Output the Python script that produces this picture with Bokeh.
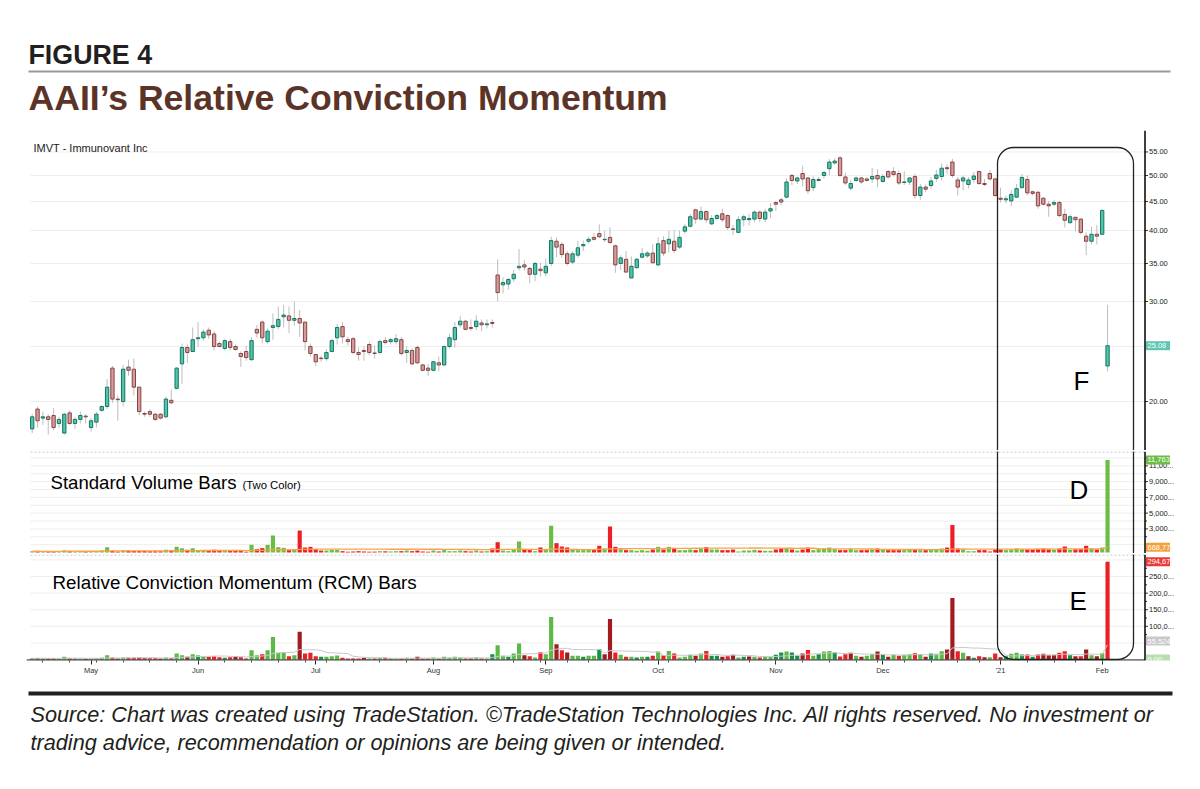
import numpy as np
import pandas as pd
from bokeh.plotting import figure
from bokeh.layouts import column
from bokeh.models import Range1d, FixedTicker, Label, Span, ColumnDataSource
from bokeh.core.properties import value
from bokeh.embed import file_html
from bokeh.resources import INLINE

FONT = "Liberation Sans"
W = 1200

# ---------------- data (IMVT daily, 2020-04-16 .. 2021-02-02) ----------------
price_open = [
    17.9, 19.4, 18.7, 18.8, 18.9, 18.3, 17.6, 19.1, 18.3, 18.6,
    18.85, 18.0, 18.4, 19.3, 19.6, 22.9, 20.2, 20.0, 23.0, 22.8,
    21.2, 19.05, 19.2, 19.0, 19.0, 18.8, 20.1, 21.1, 23.3, 24.9,
    24.5, 25.8, 25.9, 26.7, 26.3, 25.3, 24.8, 25.5, 25.0, 24.3,
    24.5, 23.7, 26.8, 27.6, 25.5, 27.0, 27.1, 28.2, 28.3, 27.8,
    28.0, 27.6, 25.0, 24.2, 23.85, 23.8, 24.5, 25.9, 27.1, 25.7,
    25.8, 24.4, 24.6, 25.2, 24.35, 24.4, 25.6, 25.5, 25.5, 25.7,
    24.4, 24.6, 24.9, 23.2, 22.9, 22.7, 23.4, 23.2, 25.0, 25.7,
    27.3, 27.7, 27.0, 27.1, 27.5, 27.3, 27.55, 33.4, 32.1, 32.2,
    32.9, 34.4, 34.8, 34.3, 33.5, 34.2, 33.7, 35.0, 38.3, 37.8,
    36.4, 35.2, 36.2, 37.6, 38.3, 38.9, 39.5, 38.55, 38.9, 37.6,
    35.0, 35.6, 33.0, 34.4, 35.9, 36.1, 36.5, 34.8, 38.4, 37.9,
    38.3, 37.4, 39.9, 40.7, 43.5, 41.9, 43.2, 41.1, 42.0, 42.8,
    42.5, 40.25, 39.7, 41.8, 41.8, 41.9, 43.1, 41.9, 43.3, 44.8,
    45.3, 45.8, 50.0, 48.9, 50.4, 49.5, 47.6, 49.0, 50.0, 51.4,
    52.6, 53.7, 49.7, 47.5, 49.0, 49.5, 49.3, 49.3, 50.0, 48.8,
    50.8, 50.8, 50.4, 48.6, 48.7, 49.8, 46.1, 47.7, 48.0, 49.4,
    49.8, 51.6, 52.8, 49.1, 48.9, 48.2, 49.2, 50.8, 48.4, 50.4,
    49.3, 45.6, 45.3, 45.1, 45.8, 47.6, 49.2, 46.8, 46.7, 45.6,
    44.5, 44.5, 44.8, 42.7, 41.3, 42.2, 41.9, 39.1, 38.3, 39.4,
    39.4, 23.1,
]
price_high = [
    19.0, 19.6, 19.2, 19.0, 19.5, 18.8, 19.1, 19.3, 18.8, 19.2,
    19.0, 18.7, 19.2, 19.7, 21.9, 23.1, 20.5, 23.2, 23.7, 23.8,
    21.2, 19.2, 19.4, 19.1, 19.1, 20.4, 21.0, 23.0, 25.3, 25.2,
    27.0, 27.6, 26.8, 27.0, 26.6, 25.5, 25.8, 25.8, 25.2, 24.5,
    25.1, 26.0, 27.3, 27.8, 26.9, 28.6, 29.4, 29.6, 29.4, 30.0,
    29.0, 27.6, 25.3, 24.2, 24.1, 24.7, 25.8, 27.4, 27.6, 26.0,
    26.0, 24.9, 25.0, 25.5, 25.1, 25.7, 26.0, 25.9, 26.3, 26.0,
    25.0, 24.8, 25.1, 23.3, 23.3, 23.6, 24.0, 25.1, 26.3, 27.6,
    28.3, 27.8, 27.9, 28.4, 27.9, 27.9, 27.9, 35.6, 33.1, 33.0,
    34.1, 37.1, 35.5, 34.5, 35.2, 35.1, 35.7, 39.0, 38.9, 38.2,
    36.8, 36.8, 38.4, 38.4, 39.0, 39.6, 41.0, 40.0, 40.5, 37.8,
    36.2, 36.8, 36.0, 35.8, 37.3, 36.8, 37.9, 38.9, 39.1, 40.0,
    40.1, 40.0, 41.1, 42.8, 43.7, 44.1, 43.4, 42.6, 42.8, 43.7,
    42.7, 40.9, 42.4, 42.7, 42.8, 43.4, 43.4, 43.7, 44.7, 45.1,
    45.7, 49.4, 50.3, 49.8, 52.0, 49.7, 49.8, 49.7, 51.0, 53.4,
    53.6, 54.1, 50.6, 49.1, 49.8, 49.7, 49.6, 51.6, 51.3, 50.3,
    51.1, 51.7, 51.0, 50.9, 49.6, 50.3, 48.3, 48.2, 49.7, 51.1,
    52.5, 52.3, 53.5, 49.7, 50.0, 49.7, 50.7, 51.0, 49.3, 51.1,
    49.6, 47.6, 46.1, 47.1, 48.3, 50.3, 50.0, 47.0, 47.0, 45.7,
    45.1, 45.3, 45.1, 43.7, 42.7, 42.3, 42.0, 39.7, 40.6, 40.9,
    43.6, 29.6,
]
price_low = [
    17.6, 18.0, 18.2, 17.5, 17.8, 18.0, 17.5, 18.2, 17.9, 18.3,
    18.3, 17.7, 18.0, 19.2, 19.4, 19.9, 18.5, 19.6, 22.2, 20.5,
    18.9, 18.8, 18.8, 18.5, 18.6, 18.7, 19.8, 21.0, 21.5, 23.4,
    24.5, 25.0, 25.6, 25.8, 24.6, 24.9, 24.6, 24.6, 24.6, 23.0,
    23.6, 23.6, 25.9, 25.3, 25.3, 25.7, 26.8, 27.0, 26.4, 27.2,
    26.0, 24.6, 24.0, 23.1, 23.5, 23.6, 24.4, 25.2, 25.3, 25.1,
    24.2, 23.6, 23.6, 24.1, 23.8, 24.2, 25.2, 25.2, 25.2, 24.1,
    23.4, 23.2, 23.3, 22.6, 22.2, 22.6, 22.6, 23.1, 24.8, 24.9,
    27.0, 26.7, 26.6, 26.7, 26.6, 26.9, 27.0, 30.0, 31.0, 31.5,
    32.5, 34.0, 34.0, 32.3, 32.6, 33.2, 33.2, 34.6, 35.9, 35.8,
    34.7, 34.9, 35.8, 36.8, 37.9, 38.4, 38.8, 38.2, 37.9, 33.7,
    34.1, 33.8, 33.0, 34.3, 35.7, 35.8, 35.0, 34.6, 36.1, 36.6,
    36.5, 37.1, 39.5, 40.5, 41.1, 41.7, 41.3, 40.9, 41.7, 41.4,
    40.1, 39.3, 39.6, 40.7, 40.8, 41.4, 41.4, 41.4, 42.1, 43.3,
    44.3, 45.6, 48.1, 48.3, 47.8, 46.4, 46.9, 48.8, 49.4, 50.0,
    52.3, 49.7, 48.1, 47.0, 48.7, 48.4, 48.8, 48.5, 47.7, 48.6,
    49.4, 49.8, 48.1, 48.1, 48.1, 45.5, 45.3, 46.7, 47.4, 48.7,
    49.0, 50.3, 49.5, 46.1, 47.1, 47.4, 48.5, 48.1, 47.9, 49.0,
    45.8, 44.8, 44.7, 44.1, 45.6, 47.4, 46.1, 46.1, 43.7, 44.3,
    42.3, 44.2, 42.2, 40.5, 41.1, 39.9, 39.4, 36.2, 37.8, 37.8,
    39.4, 22.6,
]
price_close = [
    18.8, 18.5, 18.8, 18.6, 18.0, 18.6, 19.0, 18.3, 18.6, 18.9,
    18.8, 18.5, 19.0, 19.6, 21.2, 20.2, 20.15, 22.8, 22.7, 21.2,
    19.2, 19.0, 19.0, 18.6, 18.7, 20.2, 19.9, 22.9, 24.9, 24.4,
    25.7, 25.9, 26.5, 26.2, 25.0, 25.0, 25.6, 24.9, 24.7, 24.0,
    23.9, 25.6, 26.4, 25.9, 26.6, 27.2, 27.9, 28.4, 27.8, 28.0,
    27.5, 25.5, 24.3, 23.5, 23.8, 24.4, 25.6, 27.0, 26.0, 25.5,
    24.4, 24.2, 24.5, 24.4, 24.3, 25.5, 25.4, 25.7, 25.8, 24.3,
    24.6, 23.3, 23.4, 22.7, 22.7, 23.5, 23.2, 25.0, 25.9, 27.0,
    27.7, 26.8, 26.9, 27.7, 27.3, 27.4, 27.45, 31.1, 32.4, 32.8,
    33.5, 34.6, 34.5, 33.5, 35.0, 34.0, 34.6, 38.4, 37.4, 36.3,
    35.0, 36.4, 37.3, 37.8, 38.6, 38.6, 39.0, 38.6, 38.1, 34.8,
    35.8, 33.8, 34.6, 35.6, 36.4, 36.5, 35.1, 37.9, 36.5, 38.6,
    36.9, 38.9, 40.6, 42.3, 41.9, 43.2, 41.8, 42.0, 42.5, 41.8,
    40.5, 40.2, 41.8, 42.3, 42.0, 43.1, 42.0, 43.1, 43.7, 44.5,
    44.9, 48.7, 49.0, 49.5, 49.3, 47.0, 49.2, 49.2, 50.6, 52.8,
    53.0, 50.0, 48.5, 48.4, 49.5, 48.7, 49.0, 49.8, 49.3, 49.8,
    49.7, 50.2, 48.5, 48.7, 49.5, 46.1, 47.7, 47.3, 48.9, 50.1,
    51.5, 51.4, 50.0, 47.7, 49.5, 49.1, 49.9, 48.4, 48.2, 49.3,
    46.1, 45.4, 45.5, 46.3, 47.4, 49.6, 46.6, 46.5, 44.2, 44.5,
    44.2, 44.8, 42.5, 41.7, 42.3, 41.8, 39.7, 38.3, 39.4, 39.1,
    43.4, 25.08,
]
# volume, thousands of shares
volume_k = [
    150, 180, 120, 150, 170, 130, 250, 170, 140, 150,
    120, 150, 200, 250, 680, 200, 130, 260, 210, 190,
    200, 180, 170, 170, 160, 340, 250, 720, 550, 340,
    550, 330, 320, 250, 340, 250, 200, 250, 250, 250,
    100, 970, 420, 550, 970, 2160, 680, 590, 340, 420,
    2790, 630, 720, 420, 250, 250, 340, 340, 170, 100,
    130, 170, 130, 100, 110, 170, 150, 130, 170, 170,
    250, 170, 250, 130, 100, 250, 130, 300, 170, 170,
    250, 170, 130, 250, 130, 170, 510, 1310, 250, 170,
    380, 1400, 380, 300, 170, 635, 380, 3400, 1190, 760,
    635, 420, 300, 300, 340, 340, 850, 510, 3300, 720,
    420, 300, 300, 220, 300, 220, 380, 720, 380, 720,
    590, 300, 300, 380, 300, 510, 680, 380, 380, 300,
    300, 380, 130, 250, 250, 340, 250, 220, 220, 380,
    510, 590, 380, 250, 380, 630, 300, 420, 510, 630,
    420, 300, 300, 460, 300, 300, 300, 380, 510, 420,
    300, 300, 300, 300, 340, 380, 300, 300, 420, 380,
    510, 630, 3500, 510, 380, 170, 170, 300, 300, 130,
    380, 380, 300, 380, 510, 420, 380, 380, 420, 510,
    380, 340, 510, 760, 340, 420, 420, 850, 510, 380,
    630, 11763,
]
# relative conviction momentum, thousands
rcm_k = [
    4, 4, 3, 3, 4, 3, 8, 4, 3, 3,
    2, 3, 4, 5, 13, 5, 3, 6, 5, 5,
    6, 4, 4, 4, 3, 6, 4, 18, 13, 8,
    16, 12, 8, 8, 10, 7, 5, 7, 9, 7,
    3, 28, 13, 16, 28, 68, 20, 20, 10, 13,
    84, 18, 20, 10, 8, 8, 10, 12, 5, 3,
    3, 3, 5, 3, 3, 5, 5, 3, 3, 3,
    5, 3, 8, 3, 3, 6, 3, 8, 5, 8,
    6, 3, 3, 6, 3, 3, 16, 43, 11, 8,
    18, 48, 13, 10, 6, 22, 16, 128, 46, 28,
    21, 11, 11, 8, 11, 11, 31, 16, 122, 21,
    14, 8, 8, 6, 8, 8, 11, 24, 12, 26,
    18, 6, 8, 14, 11, 18, 26, 11, 11, 8,
    10, 14, 6, 8, 9, 8, 6, 8, 8, 14,
    21, 24, 21, 11, 18, 29, 11, 16, 24, 26,
    21, 9, 16, 20, 11, 8, 11, 16, 24, 14,
    8, 14, 11, 14, 16, 19, 16, 8, 18, 17,
    25, 30, 185, 25, 20, 10, 5, 10, 7, 7,
    18, 7, 10, 17, 20, 15, 15, 8, 15, 17,
    13, 13, 20, 25, 13, 10, 10, 30, 13, 10,
    19, 294.675,
]
# RCM bar tone: G bright green, g dark green, R bright red, r dark red
rcm_tone = list(
    "GRgrRGGRgG" "rGGGGRrGRR" "RrRRrGRGGr" "GgGRRRgRrR" "RGGRGGGGRG"
    "rRRRgGGGRR" "rRrGRGRgGR" "GRrRRGRGGG" "GRrGRGgGGg" "GGrRGRGGrR"
    "rGGgGGgrrR" "GRGgGgRGRG" "RGGGrGRggr" "RrGgrGRGGg" "gGggrRGgGG"
    "gRRrGrGGrg" "rGRGGRGrgG" "GrrRGrgRrG" "RrgGGgRgRr" "rrRRgrRrGr"
    "GR"
)
holidays = ["2020-05-25", "2020-07-03", "2020-09-07", "2020-11-26",
            "2020-12-25", "2021-01-01", "2021-01-18"]
price_ticks = [20, 30, 35, 40, 45, 50, 55]
price_tick_labels = ["20.00", "30.00", "35.00", "40.00", "45.00", "50.00", "55.00"]
price_grid = [20, 25, 30, 35, 40, 45, 50, 55]
vol_ticks = [3000, 5000, 7000, 9000, 11000]
vol_tick_labels = ["3,000...", "5,000...", "7,000...", "9,000...", "11,00..."]
vol_minor = [2000, 4000, 6000, 8000, 10000, 12000]
vol_grid = list(range(1000, 12001, 1000))
rcm_ticks = [100, 150, 200, 250]
rcm_tick_labels = ["100,0...", "150,0...", "200,0...", "250,0..."]
rcm_minor = [75, 125, 175, 225, 275]
rcm_grid = [50, 100, 150, 200, 250, 300]
last_price_tag = "25.08"
last_vol_tag = "11,763,"
vol_avg_value, vol_avg_tag = 668.77, "668,770"
last_rcm_tag = "294,675"
rcm_avg_value, rcm_avg_tag = 55.524, "55,524"

# ---------------- checks ----------------
n = len(price_close)
lens = dict(o=len(price_open), h=len(price_high), l=len(price_low), c=n,
            v=len(volume_k), r=len(rcm_k), t=len(rcm_tone))
if any(v != n for v in lens.values()):
    raise ValueError(str(lens))
dates = pd.bdate_range("2020-04-16", "2021-02-02")
dates = dates[~dates.isin(pd.to_datetime(holidays))]
if len(dates) != n:
    raise ValueError("dates %d vs %d" % (len(dates), n))

idx = np.arange(n)
o = np.array(price_open); c = np.array(price_close)
up = c >= o
tone_col = {"G": "#5cb946", "g": "#17914a", "R": "#ec1f26", "r": "#a01c21"}
src = ColumnDataSource(dict(
    x=idx, o=o, h=price_high, l=price_low, c=c,
    top=np.maximum(o, c), bot=np.minimum(o, c),
    fill=["#55c2a9" if u else "#d99a9a" for u in up],
    edge=["#127863" if u else "#864444" for u in up],
    vol=volume_k, vcol=["#6cbd46" if u else "#ec1f26" for u in up],
    rcm=rcm_k, rcol=[tone_col[t] for t in rcm_tone],
))
vol_ma = pd.Series(volume_k, dtype=float).rolling(50, min_periods=1).mean()
rcm_ma = pd.Series(rcm_k, dtype=float).rolling(10, min_periods=1).mean()

month_ticks = [i for i in range(1, n) if dates[i].month != dates[i - 1].month]
month_labels = {i: ("'21" if dates[i].month == 1 else dates[i].strftime("%b")) for i in month_ticks}
week_ticks = [i for i in range(1, n) if dates[i].weekday() < dates[i - 1].weekday()]

# ---------------- geometry (x in candle-index units) ----------------
LEFT = 26                       # frame starts at this page x
PX = 5.35                       # pixels per trading day
X0 = -(31.7 - LEFT) / PX        # index at frame's left edge
x_rng = Range1d(X0, X0 + (W - LEFT) / PX)
AXIS_X = (1144.5 - 31.7) / PX   # right value axis
TICK = 3.0 / PX
LABEL_X = AXIS_X + 4.0 / PX
TAG_X = AXIS_X + 2.5 / PX
TAG_C = AXIS_X + 13.0 / PX
LINE_L = (30 - 31.7) / PX
BOX = dict(left=(997 - 31.7) / PX, right=(1133 - 31.7) / PX)


def base_fig(height, y_range, **kw):
    p = figure(width=W, height=height, x_range=x_rng, y_range=y_range,
               y_axis_location=None, toolbar_location=None, output_backend="svg",
               min_border_left=LEFT, min_border_right=0, outline_line_color=None, **kw)
    p.grid.visible = False
    return p


def value_axis(p, grid, ticks, labels, minor=()):
    p.segment(x0=[LINE_L] * len(grid), x1=[AXIS_X] * len(grid), y0=grid, y1=grid,
              line_color="#eeeeee", line_width=1)
    p.add_layout(Span(location=AXIS_X, dimension="height", line_color="black", line_width=1.5))
    p.segment(x0=[AXIS_X] * len(ticks), x1=[AXIS_X + TICK] * len(ticks), y0=ticks, y1=ticks,
              line_color="#333", line_width=1)
    if minor:
        p.segment(x0=[AXIS_X] * len(minor), x1=[AXIS_X + TICK * 0.67] * len(minor), y0=list(minor),
                  y1=list(minor), line_color="#333", line_width=1)
    p.text(x=[LABEL_X] * len(ticks), y=ticks, text=labels, text_font=value(FONT),
           text_font_size=value("7.5px"), text_color="#222", text_baseline="middle")


def tag(p, y, s, color, tcolor="white"):
    p.rect(x=[TAG_C], y=[y], width=24, height=9, width_units="screen", height_units="screen",
           fill_color=color, line_color=None)
    p.text(x=[TAG_X], y=[y], text=[s], text_font=value(FONT), text_font_size=value("7.5px"),
           text_color=tcolor, text_baseline="middle")


def label(p, x, y, s, size, color="black", **kw):
    p.add_layout(Label(x=x, y=y, text=s, text_font=FONT, text_font_size=size,
                       text_color=color, text_baseline="middle", **kw))


# ---------------- header ----------------
ph = figure(width=W, height=130, x_range=Range1d(LEFT, W), y_range=Range1d(130, 0),
            x_axis_location=None, y_axis_location=None, toolbar_location=None,
            output_backend="svg", min_border_left=LEFT, min_border_right=0,
            min_border_top=0, min_border_bottom=0, outline_line_color=None)
ph.grid.visible = False
label(ph, 28, 54.7, "FIGURE 4", "26.8px", "#231f20", text_font_style="bold")
ph.segment(x0=[28], y0=[71], x1=[1170], y1=[71], line_color="#9a9a9a", line_width=2)
label(ph, 28, 97.7, "AAII\u2019s Relative Conviction Momentum", "35.6px", "#5b3427",
      text_font_style="bold")

# ---------------- price ----------------
pp = base_fig(320, Range1d(16.4, 60.0), y_axis_type="log", x_axis_location=None,
              min_border_top=0, min_border_bottom=0)
value_axis(pp, price_grid, price_ticks, price_tick_labels)
pp.segment(x0="x", y0="l", x1="x", y1="h", source=src, line_color="#bdbdbd", line_width=1)
pp.vbar(x="x", width=0.62, top="top", bottom="bot", fill_color="fill", line_color="edge",
        line_width=1, source=src)
pp.quad(left=[BOX["left"]], right=[BOX["right"]], top=[56.0], bottom=[1.0], fill_color=None,
        line_color="#222", line_width=1.3, border_radius=16)
label(pp, (33 - 31.7) / PX, 56.0, "IMVT - Immunovant Inc", "11px", "#222")
label(pp, (1073 - 31.7) / PX, 21.78, "F", "26px")
tag(pp, price_close[-1], last_price_tag, "#5fc6b2")

# ---------------- volume ----------------
VOL_TOP = 12827
pv = base_fig(103, Range1d(-127, VOL_TOP), x_axis_location=None, min_border_top=1, min_border_bottom=0)
value_axis(pv, vol_grid, vol_ticks, vol_tick_labels, vol_minor)
pv.segment(x0=[LINE_L], x1=[AXIS_X], y0=[VOL_TOP - 64], y1=[VOL_TOP - 64], line_color="#b8b8b8",
           line_dash="2 2", line_width=1)
pv.vbar(x="x", width=0.78, top="vol", bottom=0, fill_color="vcol", line_color=None, source=src)
pv.line(idx, vol_ma, line_color="#f7a447", line_width=1.3)
pv.quad(left=[BOX["left"]], right=[BOX["right"]], top=[1e6], bottom=[-1e6], fill_color=None,
        line_color="#222", line_width=1.3, border_radius=16)
label(pv, (50 - 31.7) / PX, 8928, "Standard Volume Bars", "18.6px")
label(pv, (242 - 31.7) / PX, 8598, "(Two Color)", "11.3px")
label(pv, (1069 - 31.7) / PX, 7937, "D", "26px")
tag(pv, volume_k[-1], last_vol_tag, "#6cbd46")
tag(pv, vol_avg_value, vol_avg_tag, "#f5a03e")

# ---------------- RCM ----------------
RCM_TOP = 316.4
pr = base_fig(124, Range1d(-2.985, RCM_TOP), min_border_top=1, min_border_bottom=16)
value_axis(pr, rcm_grid, rcm_ticks, rcm_tick_labels, rcm_minor)
xa = pr.xaxis[0]
xa.ticker = FixedTicker(ticks=month_ticks, minor_ticks=week_ticks)
xa.major_label_overrides = month_labels
xa.axis_line_color = None
xa.major_tick_line_color = "#222"; xa.major_tick_out = 4; xa.major_tick_in = 0
xa.minor_tick_line_color = "#444"; xa.minor_tick_out = 2; xa.minor_tick_in = 0
xa.major_label_text_font = FONT; xa.major_label_text_font_size = "7.5px"
xa.major_label_text_color = "#333"; xa.major_label_standoff = 1
pr.segment(x0=[LINE_L], x1=[AXIS_X], y0=[RCM_TOP - 1.5], y1=[RCM_TOP - 1.5], line_color="#b8b8b8",
           line_dash="2 2", line_width=1)
pr.vbar(x="x", width=0.78, top="rcm", bottom=0, fill_color="rcol", line_color=None, source=src)
pr.line(idx, rcm_ma, line_color="#c8c8c8", line_width=1)
pr.segment(x0=[X0], x1=[AXIS_X], y0=[-1.6], y1=[-1.6], line_color="black", line_width=1.3)
pr.quad(left=[BOX["left"]], right=[BOX["right"]], top=[1e5], bottom=[0], fill_color=None,
        line_color="#222", line_width=1.3, border_radius=16)
label(pr, (52 - 31.7) / PX, 230.7, "Relative Conviction Momentum (RCM) Bars", "18.8px")
label(pr, (1069 - 31.7) / PX, 174.9, "E", "26px")
tag(pr, rcm_k[-1], last_rcm_tag, "#ec3a36")
tag(pr, rcm_avg_value, rcm_avg_tag, "#c8c8c8")
tag(pr, 1.2, "0.00", "#b8dfb0")

# ---------------- footer ----------------
pf = figure(width=W, height=110, x_range=Range1d(LEFT, W), y_range=Range1d(110, 0),
            x_axis_location=None, y_axis_location=None, toolbar_location=None,
            output_backend="svg", min_border_left=LEFT, min_border_right=0,
            min_border_top=0, min_border_bottom=0, outline_line_color=None)
pf.grid.visible = False
pf.segment(x0=[28], y0=[16], x1=[1172], y1=[16], line_color="#231f20", line_width=4)
label(pf, 30, 37, "Source: Chart was created using TradeStation. \u00a9TradeStation Technologies Inc. "
      "All rights reserved. No investment or", "21.7px", "#231f20", text_font_style="italic")
label(pf, 30, 65, "trading advice, recommendation or opinions are being given or intended.",
      "21.7px", "#231f20", text_font_style="italic")

layout = column(ph, pp, pv, pr, pf, spacing=0)
open("out.html", "w").write(file_html(layout, INLINE))
